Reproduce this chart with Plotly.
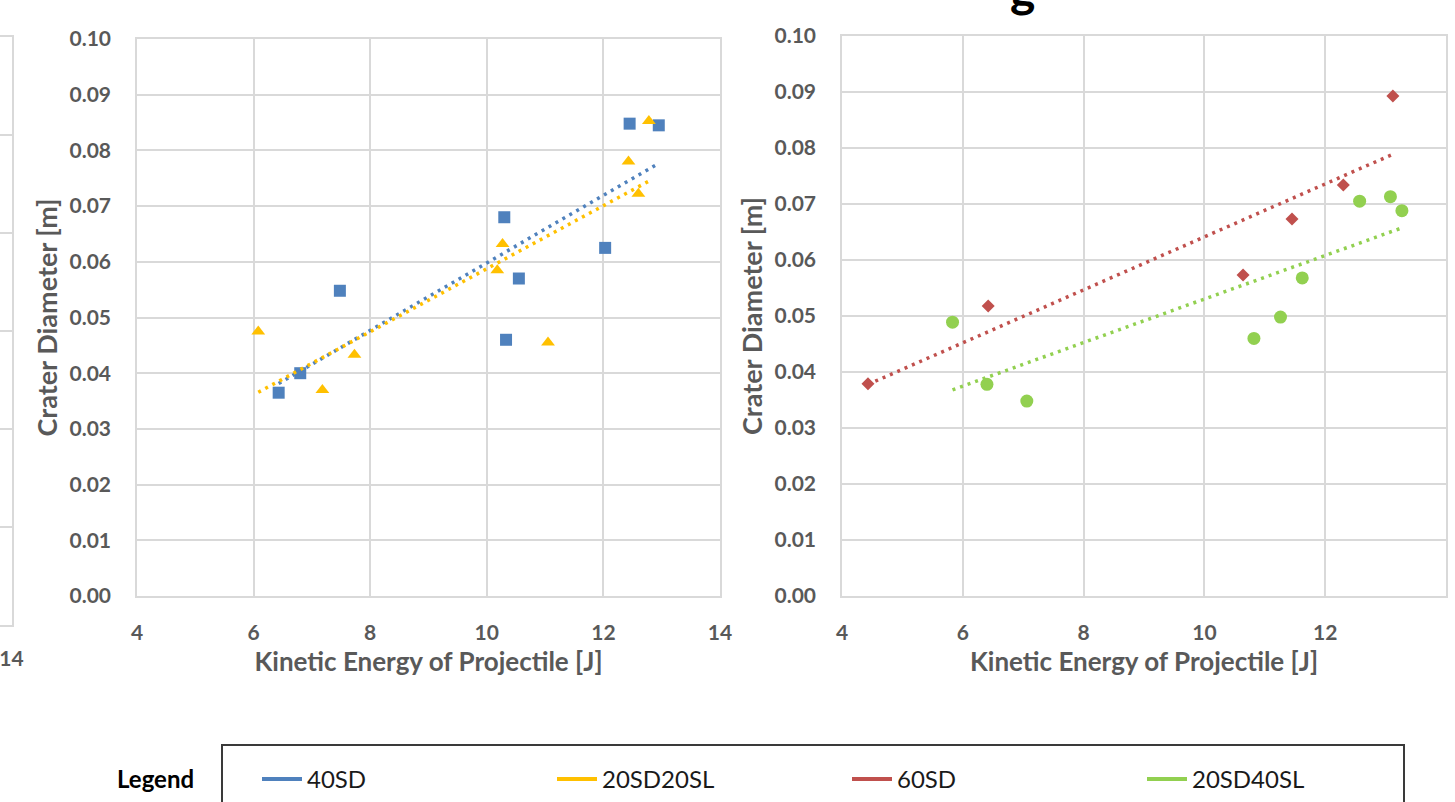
import numpy as np
import plotly.graph_objects as go

W, H = 1455, 802

# ---------------- data ----------------
sd40_x = [6.43, 6.80, 7.48, 10.30, 10.33, 10.55, 12.03, 12.45, 12.95]
sd40_y = [0.0365, 0.0400, 0.0548, 0.0680, 0.0460, 0.0570, 0.0625, 0.0848, 0.0845]

sd20sl20_x = [6.08, 7.18, 7.73, 10.18, 10.27, 11.05, 12.43, 12.60, 12.78]
sd20sl20_y = [0.0475, 0.0370, 0.0433, 0.0585, 0.0632, 0.0455, 0.0780, 0.0722, 0.0853]

sd60_x = [4.43, 6.42, 10.64, 11.45, 12.30, 13.12]
sd60_y = [0.0379, 0.0518, 0.0573, 0.0673, 0.0734, 0.0893]

sd20sl40_x = [5.83, 6.40, 7.06, 10.82, 11.26, 11.62, 12.57, 13.08, 13.27]
sd20sl40_y = [0.0489, 0.0378, 0.0348, 0.0460, 0.0498, 0.0568, 0.0705, 0.0713, 0.0688]

series_names = ["40SD", "20SD20SL", "60SD", "20SD40SL"]
series_colors = ["#4F81BD", "#FFC000", "#C0504D", "#92D050"]

x_ticks = [4, 6, 8, 10, 12, 14]
y_ticks = [0.00, 0.01, 0.02, 0.03, 0.04, 0.05, 0.06, 0.07, 0.08, 0.09, 0.10]
left_neighbour_ticks = [14]

# ---------------- figure ----------------
fig = go.Figure()

GRID = "#D9D9D9"
TXT = "#595959"
FONT = "Lato"


def px_x(p):
    return p / W


def px_y(p):
    return 1 - p / H


def add_series(x, y, name, color, symbol, size, xa, ya):
    fig.add_trace(go.Scatter(
        x=x, y=y, mode="markers", name=name, showlegend=False,
        marker=dict(symbol=symbol, size=size, color=color, line=dict(width=0)),
        xaxis=xa, yaxis=ya, cliponaxis=False))
    xs = np.array(x)
    ys = np.array(y)
    m, b = np.polyfit(xs, ys, 1)
    tx = [xs.min(), xs.max()]
    ty = [m * tx[0] + b, m * tx[1] + b]
    fig.add_trace(go.Scatter(
        x=tx, y=ty, mode="lines", showlegend=False, hoverinfo="skip",
        line=dict(color=color, width=3.5, dash="3px,5px"),
        xaxis=xa, yaxis=ya))


add_series(sd40_x, sd40_y, series_names[0], series_colors[0], "square", 12, "x", "y")
add_series(sd20sl20_x, sd20sl20_y, series_names[1], series_colors[1], "triangle-up", 12, "x", "y")
add_series(sd60_x, sd60_y, series_names[2], series_colors[2], "diamond", 10, "x2", "y2")
add_series(sd20sl40_x, sd20sl40_y, series_names[3], series_colors[3], "circle", 13, "x2", "y2")

# legend-only entries (solid line swatches)
for n, c in zip(series_names, series_colors):
    fig.add_trace(go.Scatter(x=[None], y=[None], mode="lines", name=n,
                             line=dict(color=c, width=4), xaxis="x", yaxis="y"))

# partial neighbouring chart at far left (only its right edge visible)
fig.add_trace(go.Scatter(x=[None], y=[None], mode="markers", showlegend=False,
                         xaxis="x3", yaxis="y3"))

tickfont = dict(family=FONT, size=21, color=TXT, weight="bold")
xtitlefont = dict(family=FONT, size=26, color=TXT, weight="bold")
ytitlefont = dict(family=FONT, size=27, color=TXT, weight="bold")

xcommon = dict(range=[4, 14], tickvals=x_ticks, showgrid=True, gridcolor=GRID,
               gridwidth=1.5, showline=True, mirror=True, linecolor=GRID,
               linewidth=1.5, zeroline=False, ticks="", tickfont=tickfont,
               ticklabelstandoff=17, automargin=False)
ycommon = dict(range=[0, 0.10], tickvals=y_ticks, tickformat=".2f", showgrid=True,
               gridcolor=GRID, gridwidth=1.5, showline=True, mirror=True,
               linecolor=GRID, linewidth=1.5, zeroline=False, ticks="",
               tickfont=tickfont, ticklabelstandoff=20, automargin=False)

fig.update_layout(
    width=W, height=H,
    margin=dict(l=0, r=0, t=0, b=0, autoexpand=False),
    paper_bgcolor="white", plot_bgcolor="white",
    showlegend=True,
    xaxis=dict(domain=[px_x(137), px_x(720)], anchor="y",
               title=dict(text="Kinetic Energy of Projectile [J]", font=xtitlefont, standoff=10),
               **xcommon),
    yaxis=dict(domain=[px_y(596), px_y(39)], anchor="x",
               title=dict(text="Crater Diameter [m]", font=ytitlefont, standoff=4),
               **ycommon),
    xaxis2=dict(domain=[px_x(842), px_x(1446)], anchor="y2",
                title=dict(text="Kinetic Energy of Projectile [J]", font=xtitlefont, standoff=10),
                **xcommon),
    yaxis2=dict(domain=[px_y(596), px_y(36)], anchor="x2",
                title=dict(text="Crater Diameter [m]", font=ytitlefont, standoff=4),
                **ycommon),
    xaxis3=dict(domain=[0, px_x(11.5)], anchor="y3", range=[13.9, 14],
                tickvals=left_neighbour_ticks, ticklabeloverflow="allow",
                showgrid=False, showline=True, mirror=True, linecolor=GRID, linewidth=1.5,
                zeroline=False, ticks="", tickfont=tickfont, ticklabelstandoff=14,
                automargin=False),
    yaxis3=dict(domain=[px_y(625), px_y(37)], anchor="x3", side="right", range=[0, 6],
                dtick=1, showgrid=True, gridcolor=GRID, gridwidth=1.5,
                showticklabels=False, showline=True, linecolor=GRID, linewidth=1.5,
                zeroline=False, ticks="", automargin=False),
    legend=dict(orientation="h", x=px_x(257), y=px_y(757), xanchor="left", yanchor="top",
                entrywidth=240, entrywidthmode="pixels",
                font=dict(family=FONT, size=24, color="#1A1A1A"),
                bgcolor="rgba(0,0,0,0)", borderwidth=0, itemwidth=40),
)

# legend frame (extends past the bottom edge, as in the reference crop)
fig.add_shape(type="rect", xref="paper", yref="paper",
              x0=px_x(222), x1=px_x(1404), y0=px_y(840), y1=px_y(745),
              line=dict(color="#3A3A3A", width=2), fillcolor="rgba(0,0,0,0)", layer="below")

fig.add_annotation(text="Legend", xref="paper", yref="paper", x=px_x(155), y=px_y(778),
                   showarrow=False, xanchor="center", yanchor="middle",
                   font=dict(family=FONT, size=24, color="#000000", weight="bold"))

# cropped chart title (only the descender of the last glyph is visible)
fig.add_annotation(text="g", xref="paper", yref="paper", x=px_x(1023), y=px_y(19),
                   showarrow=False, xanchor="center", yanchor="bottom",
                   font=dict(family=FONT, size=48, color="#000000", weight="bold"))

fig.write_html("out.html", config={"displayModeBar": False},
               post_script="document.body.style.margin='0';")
